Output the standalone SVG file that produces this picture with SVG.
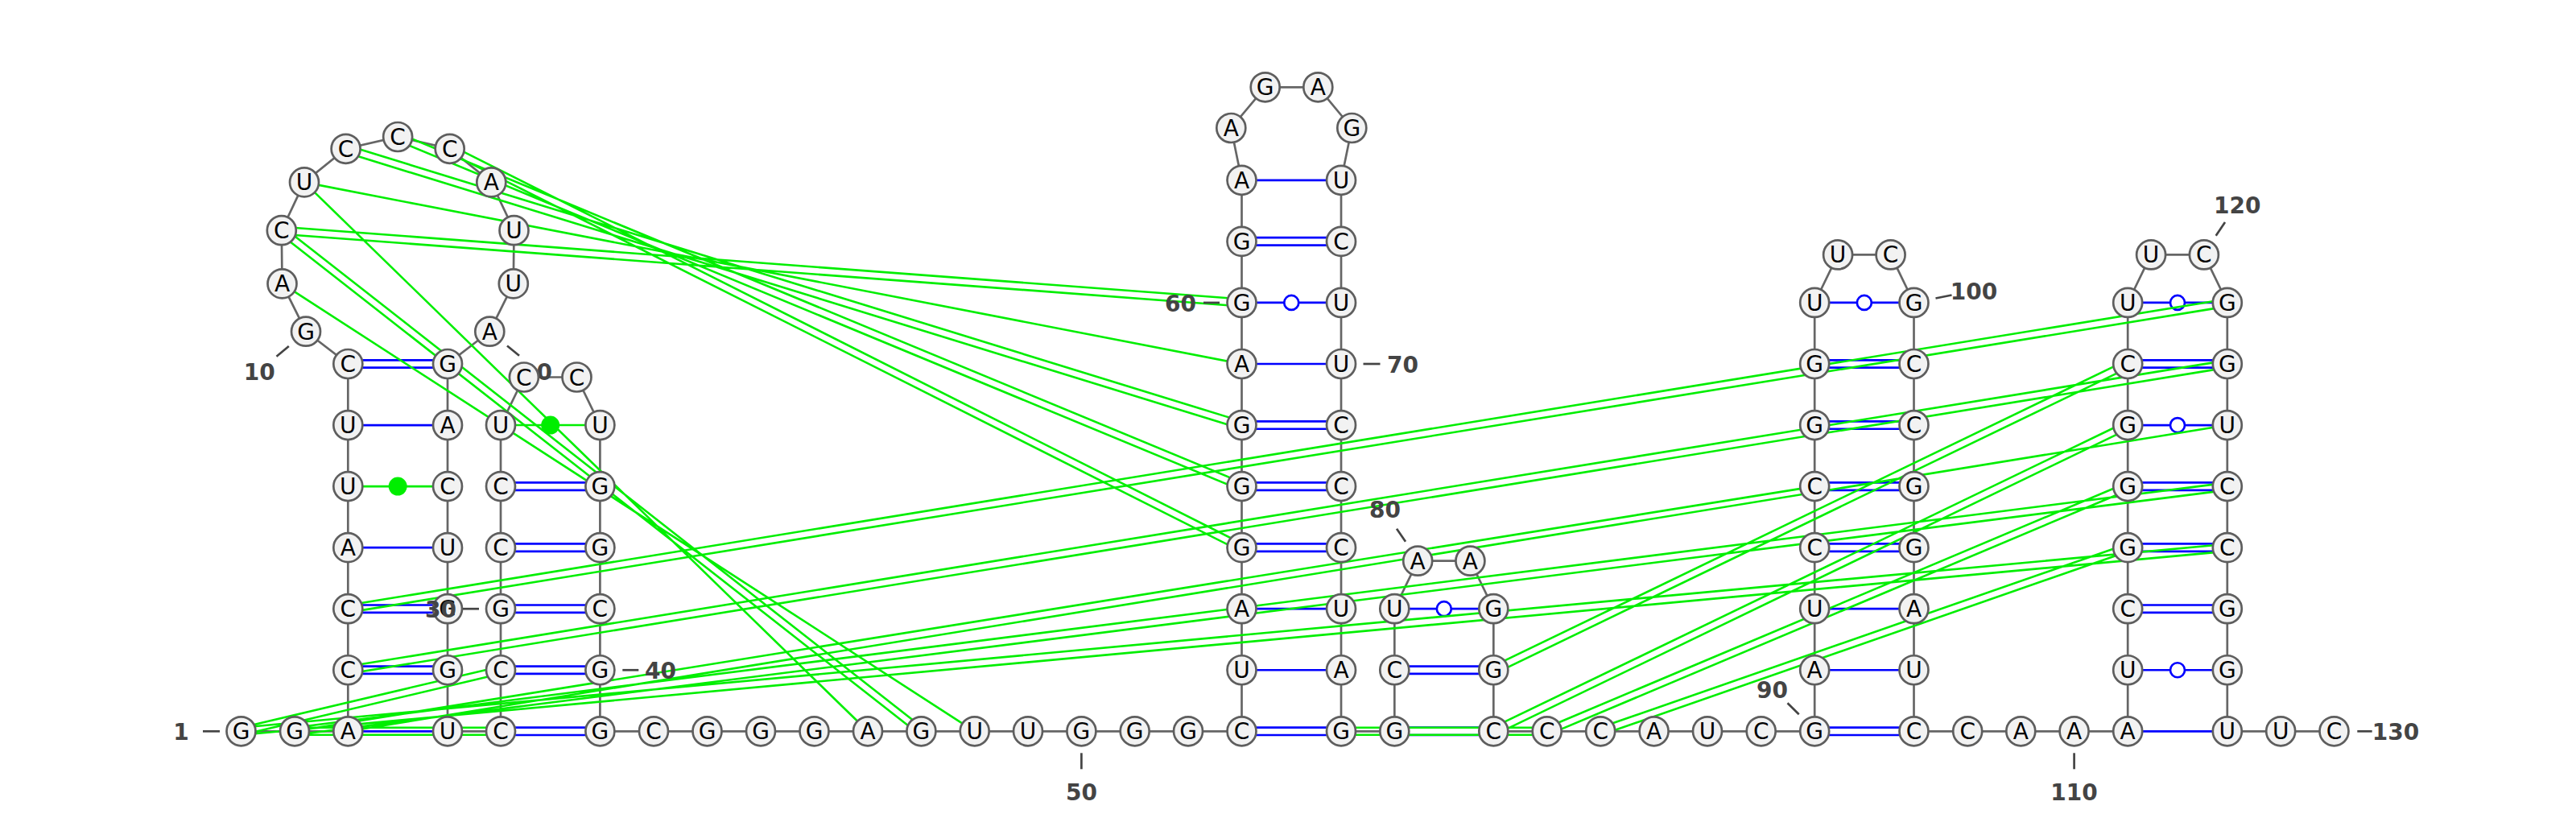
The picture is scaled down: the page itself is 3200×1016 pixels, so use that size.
<svg xmlns="http://www.w3.org/2000/svg" width="3200" height="1016" viewBox="0 0 3200 1016">
<style>
.bb{fill:none;stroke:#666;stroke-width:2.7}
.bp{fill:none;stroke:#0000ff;stroke-width:2.7}
.gu{fill:#fff;stroke:#0000ff;stroke-width:2.7}
.tp{fill:none;stroke:#00ee00;stroke-width:2.6}
.gd{fill:#00ee00;stroke:none}
.nd circle{fill:#f2f2f2;stroke:#5e5e5e;stroke-width:2.7}
.nd text{font-family:'DejaVu Sans',Verdana,sans-serif;font-size:28px;text-anchor:middle;fill:#000}
.nd text.lb{font-size:28px;font-weight:bold;fill:#444}
.tk{stroke:#444;stroke-width:2.7}
</style>
<rect width="3200" height="1016" fill="#fff"/>
<g id="connectors">
<polyline class="bb" points="299.5,908.3 366,908.3 432.3,908.3 432.3,832.25 432.3,756.2 432.3,680.15 432.3,604.1 432.3,528.05 432.3,452 380,411.7 350.5,352.4 349.8,286.2 378,226.4 429.6,184.8 494.15,170 558.7,184.8 610.3,226.4 638.5,286.2 637.8,352.4 608.3,411.7 556,452 556,528.05 556,604.1 556,680.15 556,756.2 556,832.25 556,908.3 622,908.3 622,832.25 622,756.2 622,680.15 622,604.1 622,528.05 650.9,468.5 716.5,468.5 745.4,528.05 745.4,604.1 745.4,680.15 745.4,756.2 745.4,832.25 745.4,908.3 1542.5,908.3 1542.5,223.85 1529.3,159 1571.7,108.3 1637.3,108.3 1679.3,159 1666,223.85 1666,908.3 1732.3,908.3 1732.3,756.2 1761.2,696.7 1826.4,696.7 1855.3,756.2 1855.3,908.3 2254.2,908.3 2254.2,375.95 2283.1,316.45 2348.6,316.45 2377.5,375.95 2377.5,908.3 2643.2,908.3 2643.2,375.95 2672.1,316.45 2737.9,316.45 2766.8,375.95 2766.8,908.3 2899.5,908.3"/>
<path class="bp" d="M432.3,528.05H556M432.3,680.15H556M432.3,908.3H556M1542.5,832.25H1666M1542.5,756.2H1666M1542.5,452H1666M1542.5,223.85H1666M2254.2,832.25H2377.5M2254.2,756.2H2377.5M2643.2,908.3H2766.8"/>
<path class="bp" d="M432.3,447.3H556M432.3,456.7H556M432.3,751.5H556M432.3,760.9H556M432.3,827.55H556M432.3,836.95H556M622,903.6H745.4M622,913H745.4M622,827.55H745.4M622,836.95H745.4M622,751.5H745.4M622,760.9H745.4M622,675.45H745.4M622,684.85H745.4M622,599.4H745.4M622,608.8H745.4M1542.5,903.6H1666M1542.5,913H1666M1542.5,675.45H1666M1542.5,684.85H1666M1542.5,599.4H1666M1542.5,608.8H1666M1542.5,523.35H1666M1542.5,532.75H1666M1542.5,295.2H1666M1542.5,304.6H1666M1732.3,903.6H1855.3M1732.3,913H1855.3M1732.3,827.55H1855.3M1732.3,836.95H1855.3M2254.2,903.6H2377.5M2254.2,913H2377.5M2254.2,675.45H2377.5M2254.2,684.85H2377.5M2254.2,599.4H2377.5M2254.2,608.8H2377.5M2254.2,523.35H2377.5M2254.2,532.75H2377.5M2254.2,447.3H2377.5M2254.2,456.7H2377.5M2643.2,751.5H2766.8M2643.2,760.9H2766.8M2643.2,675.45H2766.8M2643.2,684.85H2766.8M2643.2,599.4H2766.8M2643.2,608.8H2766.8M2643.2,447.3H2766.8M2643.2,456.7H2766.8"/>
<path class="bp" d="M1542.5,375.95H1666M1732.3,756.2H1855.3M2254.2,375.95H2377.5M2643.2,832.25H2766.8M2643.2,528.05H2766.8M2643.2,375.95H2766.8"/>
<circle class="gu" cx="1604.25" cy="375.95" r="9"/>
<circle class="gu" cx="1793.8" cy="756.2" r="9"/>
<circle class="gu" cx="2315.85" cy="375.95" r="9"/>
<circle class="gu" cx="2705" cy="832.25" r="9"/>
<circle class="gu" cx="2705" cy="528.05" r="9"/>
<circle class="gu" cx="2705" cy="375.95" r="9"/>
<path class="tp" d="M432.3,604.1H556M622,528.05H745.4"/>
<circle class="gd" cx="494.15" cy="604.1" r="11.5"/>
<circle class="gd" cx="683.7" cy="528.05" r="11.5"/>
<path class="tp" d="M349.5,290.7L1542.2,380.4M350.1,281.7L1542.8,371.5M378,226.4L1542.5,452M428.3,189.1L1541.2,532.35M430.9,180.5L1543.8,523.75M492.4,174.2L1540.8,608.3M495.9,165.8L1544.2,599.9M556.7,188.8L1540.5,684.2M560.7,180.8L1544.5,676.1M350.5,352.4L1210.7,908.3M347,289.7L1141.6,911.8M352.6,282.7L1147.2,904.8M378,226.4L1078,908.3M299.9,912.8L2767.2,684.6M299.1,903.8L2766.4,675.7M366.6,912.8L2767.4,608.6M365.4,903.8L2766.2,599.6M432.3,908.3L2766.8,528.05M433,836.7L2767.5,456.4M431.6,827.8L2766.1,447.6M433,760.6L2767.5,380.4M431.6,751.8L2766.1,371.5M1857.3,836.3L2645.2,456.1M1853.3,828.2L2641.2,447.9M1857.3,912.4L2645.2,532.1M1853.3,904.2L2641.2,524M1923.4,912.4L2644.9,608.2M1920,904.2L2641.5,600M1989.7,912.6L2644.7,684.4M1986.7,904.1L2641.7,675.9M300.5,912.7L623,836.6M298.5,903.9L621,827.9M366,903.8H622M366,912.8H622M1666,903.8H1921.7M1666,912.8H1921.7M366,908.3L2254.2,604.1"/>
</g>
<g class="nd">
<g id="n1"><circle cx="299.5" cy="908.3" r="18"/><text x="299.5" y="918.3">G</text><text class="lb" x="225" y="919">1</text><line class="tk" x1="252" y1="908.3" x2="273" y2="908.3"/></g>
<g id="n2"><circle cx="366" cy="908.3" r="18"/><text x="366" y="918.3">G</text></g>
<g id="n3"><circle cx="432.3" cy="908.3" r="18"/><text x="432.3" y="918.3">A</text></g>
<g id="n4"><circle cx="432.3" cy="832.25" r="18"/><text x="432.3" y="842.25">C</text></g>
<g id="n5"><circle cx="432.3" cy="756.2" r="18"/><text x="432.3" y="766.2">C</text></g>
<g id="n6"><circle cx="432.3" cy="680.15" r="18"/><text x="432.3" y="690.15">A</text></g>
<g id="n7"><circle cx="432.3" cy="604.1" r="18"/><text x="432.3" y="614.1">U</text></g>
<g id="n8"><circle cx="432.3" cy="528.05" r="18"/><text x="432.3" y="538.05">U</text></g>
<g id="n9"><circle cx="432.3" cy="452" r="18"/><text x="432.3" y="462">C</text></g>
<g id="n10"><circle cx="380" cy="411.7" r="18"/><text x="380" y="421.7">G</text><text class="lb" x="322.3" y="471.5">10</text><line class="tk" x1="343.5" y1="442.7" x2="358.8" y2="430"/></g>
<g id="n11"><circle cx="350.5" cy="352.4" r="18"/><text x="350.5" y="362.4">A</text></g>
<g id="n12"><circle cx="349.8" cy="286.2" r="18"/><text x="349.8" y="296.2">C</text></g>
<g id="n13"><circle cx="378" cy="226.4" r="18"/><text x="378" y="236.4">U</text></g>
<g id="n14"><circle cx="429.6" cy="184.8" r="18"/><text x="429.6" y="194.8">C</text></g>
<g id="n15"><circle cx="494.15" cy="170" r="18"/><text x="494.15" y="180">C</text></g>
<g id="n16"><circle cx="558.7" cy="184.8" r="18"/><text x="558.7" y="194.8">C</text></g>
<g id="n17"><circle cx="610.3" cy="226.4" r="18"/><text x="610.3" y="236.4">A</text></g>
<g id="n18"><circle cx="638.5" cy="286.2" r="18"/><text x="638.5" y="296.2">U</text></g>
<g id="n19"><circle cx="637.8" cy="352.4" r="18"/><text x="637.8" y="362.4">U</text></g>
<g id="n20"><circle cx="608.3" cy="411.7" r="18"/><text x="608.3" y="421.7">A</text><text class="lb" x="666.5" y="471.5">20</text><line class="tk" x1="630" y1="429.5" x2="645" y2="441.8"/></g>
<g id="n21"><circle cx="556" cy="452" r="18"/><text x="556" y="462">G</text></g>
<g id="n22"><circle cx="556" cy="528.05" r="18"/><text x="556" y="538.05">A</text></g>
<g id="n23"><circle cx="556" cy="604.1" r="18"/><text x="556" y="614.1">C</text></g>
<g id="n24"><circle cx="556" cy="680.15" r="18"/><text x="556" y="690.15">U</text></g>
<g id="n25"><circle cx="556" cy="756.2" r="18"/><text x="556" y="766.2">G</text></g>
<g id="n26"><circle cx="556" cy="832.25" r="18"/><text x="556" y="842.25">G</text></g>
<g id="n27"><circle cx="556" cy="908.3" r="18"/><text x="556" y="918.3">U</text></g>
<g id="n28"><circle cx="622" cy="908.3" r="18"/><text x="622" y="918.3">C</text></g>
<g id="n29"><circle cx="622" cy="832.25" r="18"/><text x="622" y="842.25">C</text></g>
<g id="n30"><circle cx="622" cy="756.2" r="18"/><text x="622" y="766.2">G</text><text class="lb" x="547.5" y="767">30</text><line class="tk" x1="575" y1="756.2" x2="595" y2="756.2"/></g>
<g id="n31"><circle cx="622" cy="680.15" r="18"/><text x="622" y="690.15">C</text></g>
<g id="n32"><circle cx="622" cy="604.1" r="18"/><text x="622" y="614.1">C</text></g>
<g id="n33"><circle cx="622" cy="528.05" r="18"/><text x="622" y="538.05">U</text></g>
<g id="n34"><circle cx="650.9" cy="468.5" r="18"/><text x="650.9" y="478.5">C</text></g>
<g id="n35"><circle cx="716.5" cy="468.5" r="18"/><text x="716.5" y="478.5">C</text></g>
<g id="n36"><circle cx="745.4" cy="528.05" r="18"/><text x="745.4" y="538.05">U</text></g>
<g id="n37"><circle cx="745.4" cy="604.1" r="18"/><text x="745.4" y="614.1">G</text></g>
<g id="n38"><circle cx="745.4" cy="680.15" r="18"/><text x="745.4" y="690.15">G</text></g>
<g id="n39"><circle cx="745.4" cy="756.2" r="18"/><text x="745.4" y="766.2">C</text></g>
<g id="n40"><circle cx="745.4" cy="832.25" r="18"/><text x="745.4" y="842.25">G</text><text class="lb" x="820.5" y="843">40</text><line class="tk" x1="773.3" y1="832.25" x2="793.3" y2="832.25"/></g>
<g id="n41"><circle cx="745.4" cy="908.3" r="18"/><text x="745.4" y="918.3">G</text></g>
<g id="n42"><circle cx="812" cy="908.3" r="18"/><text x="812" y="918.3">C</text></g>
<g id="n43"><circle cx="878.5" cy="908.3" r="18"/><text x="878.5" y="918.3">G</text></g>
<g id="n44"><circle cx="945" cy="908.3" r="18"/><text x="945" y="918.3">G</text></g>
<g id="n45"><circle cx="1011.5" cy="908.3" r="18"/><text x="1011.5" y="918.3">G</text></g>
<g id="n46"><circle cx="1078" cy="908.3" r="18"/><text x="1078" y="918.3">A</text></g>
<g id="n47"><circle cx="1144.4" cy="908.3" r="18"/><text x="1144.4" y="918.3">G</text></g>
<g id="n48"><circle cx="1210.7" cy="908.3" r="18"/><text x="1210.7" y="918.3">U</text></g>
<g id="n49"><circle cx="1277" cy="908.3" r="18"/><text x="1277" y="918.3">U</text></g>
<g id="n50"><circle cx="1343.4" cy="908.3" r="18"/><text x="1343.4" y="918.3">G</text><text class="lb" x="1343.4" y="993.6">50</text><line class="tk" x1="1343.4" y1="935.3" x2="1343.4" y2="955.3"/></g>
<g id="n51"><circle cx="1409.7" cy="908.3" r="18"/><text x="1409.7" y="918.3">G</text></g>
<g id="n52"><circle cx="1476" cy="908.3" r="18"/><text x="1476" y="918.3">G</text></g>
<g id="n53"><circle cx="1542.5" cy="908.3" r="18"/><text x="1542.5" y="918.3">C</text></g>
<g id="n54"><circle cx="1542.5" cy="832.25" r="18"/><text x="1542.5" y="842.25">U</text></g>
<g id="n55"><circle cx="1542.5" cy="756.2" r="18"/><text x="1542.5" y="766.2">A</text></g>
<g id="n56"><circle cx="1542.5" cy="680.15" r="18"/><text x="1542.5" y="690.15">G</text></g>
<g id="n57"><circle cx="1542.5" cy="604.1" r="18"/><text x="1542.5" y="614.1">G</text></g>
<g id="n58"><circle cx="1542.5" cy="528.05" r="18"/><text x="1542.5" y="538.05">G</text></g>
<g id="n59"><circle cx="1542.5" cy="452" r="18"/><text x="1542.5" y="462">A</text></g>
<g id="n60"><circle cx="1542.5" cy="375.95" r="18"/><text x="1542.5" y="385.95">G</text><text class="lb" x="1466.5" y="387">60</text><line class="tk" x1="1495" y1="375.95" x2="1515" y2="375.95"/></g>
<g id="n61"><circle cx="1542.5" cy="299.9" r="18"/><text x="1542.5" y="309.9">G</text></g>
<g id="n62"><circle cx="1542.5" cy="223.85" r="18"/><text x="1542.5" y="233.85">A</text></g>
<g id="n63"><circle cx="1529.3" cy="159" r="18"/><text x="1529.3" y="169">A</text></g>
<g id="n64"><circle cx="1571.7" cy="108.3" r="18"/><text x="1571.7" y="118.3">G</text></g>
<g id="n65"><circle cx="1637.3" cy="108.3" r="18"/><text x="1637.3" y="118.3">A</text></g>
<g id="n66"><circle cx="1679.3" cy="159" r="18"/><text x="1679.3" y="169">G</text></g>
<g id="n67"><circle cx="1666" cy="223.85" r="18"/><text x="1666" y="233.85">U</text></g>
<g id="n68"><circle cx="1666" cy="299.9" r="18"/><text x="1666" y="309.9">C</text></g>
<g id="n69"><circle cx="1666" cy="375.95" r="18"/><text x="1666" y="385.95">U</text></g>
<g id="n70"><circle cx="1666" cy="452" r="18"/><text x="1666" y="462">U</text><text class="lb" x="1742.5" y="463">70</text><line class="tk" x1="1693.5" y1="452" x2="1714.5" y2="452"/></g>
<g id="n71"><circle cx="1666" cy="528.05" r="18"/><text x="1666" y="538.05">C</text></g>
<g id="n72"><circle cx="1666" cy="604.1" r="18"/><text x="1666" y="614.1">C</text></g>
<g id="n73"><circle cx="1666" cy="680.15" r="18"/><text x="1666" y="690.15">C</text></g>
<g id="n74"><circle cx="1666" cy="756.2" r="18"/><text x="1666" y="766.2">U</text></g>
<g id="n75"><circle cx="1666" cy="832.25" r="18"/><text x="1666" y="842.25">A</text></g>
<g id="n76"><circle cx="1666" cy="908.3" r="18"/><text x="1666" y="918.3">G</text></g>
<g id="n77"><circle cx="1732.3" cy="908.3" r="18"/><text x="1732.3" y="918.3">G</text></g>
<g id="n78"><circle cx="1732.3" cy="832.25" r="18"/><text x="1732.3" y="842.25">C</text></g>
<g id="n79"><circle cx="1732.3" cy="756.2" r="18"/><text x="1732.3" y="766.2">U</text></g>
<g id="n80"><circle cx="1761.2" cy="696.7" r="18"/><text x="1761.2" y="706.7">A</text><text class="lb" x="1720.5" y="643">80</text><line class="tk" x1="1735" y1="656.7" x2="1746" y2="672.7"/></g>
<g id="n81"><circle cx="1826.4" cy="696.7" r="18"/><text x="1826.4" y="706.7">A</text></g>
<g id="n82"><circle cx="1855.3" cy="756.2" r="18"/><text x="1855.3" y="766.2">G</text></g>
<g id="n83"><circle cx="1855.3" cy="832.25" r="18"/><text x="1855.3" y="842.25">G</text></g>
<g id="n84"><circle cx="1855.3" cy="908.3" r="18"/><text x="1855.3" y="918.3">C</text></g>
<g id="n85"><circle cx="1921.7" cy="908.3" r="18"/><text x="1921.7" y="918.3">C</text></g>
<g id="n86"><circle cx="1988.2" cy="908.3" r="18"/><text x="1988.2" y="918.3">C</text></g>
<g id="n87"><circle cx="2054.6" cy="908.3" r="18"/><text x="2054.6" y="918.3">A</text></g>
<g id="n88"><circle cx="2121" cy="908.3" r="18"/><text x="2121" y="918.3">U</text></g>
<g id="n89"><circle cx="2187.7" cy="908.3" r="18"/><text x="2187.7" y="918.3">C</text></g>
<g id="n90"><circle cx="2254.2" cy="908.3" r="18"/><text x="2254.2" y="918.3">G</text><text class="lb" x="2201.4" y="866.5">90</text><line class="tk" x1="2220.5" y1="873.3" x2="2234.7" y2="887.3"/></g>
<g id="n91"><circle cx="2254.2" cy="832.25" r="18"/><text x="2254.2" y="842.25">A</text></g>
<g id="n92"><circle cx="2254.2" cy="756.2" r="18"/><text x="2254.2" y="766.2">U</text></g>
<g id="n93"><circle cx="2254.2" cy="680.15" r="18"/><text x="2254.2" y="690.15">C</text></g>
<g id="n94"><circle cx="2254.2" cy="604.1" r="18"/><text x="2254.2" y="614.1">C</text></g>
<g id="n95"><circle cx="2254.2" cy="528.05" r="18"/><text x="2254.2" y="538.05">G</text></g>
<g id="n96"><circle cx="2254.2" cy="452" r="18"/><text x="2254.2" y="462">G</text></g>
<g id="n97"><circle cx="2254.2" cy="375.95" r="18"/><text x="2254.2" y="385.95">U</text></g>
<g id="n98"><circle cx="2283.1" cy="316.45" r="18"/><text x="2283.1" y="326.45">U</text></g>
<g id="n99"><circle cx="2348.6" cy="316.45" r="18"/><text x="2348.6" y="326.45">C</text></g>
<g id="n100"><circle cx="2377.5" cy="375.95" r="18"/><text x="2377.5" y="385.95">G</text><text class="lb" x="2452" y="371.5">100</text><line class="tk" x1="2404.5" y1="370.5" x2="2424.5" y2="366.5"/></g>
<g id="n101"><circle cx="2377.5" cy="452" r="18"/><text x="2377.5" y="462">C</text></g>
<g id="n102"><circle cx="2377.5" cy="528.05" r="18"/><text x="2377.5" y="538.05">C</text></g>
<g id="n103"><circle cx="2377.5" cy="604.1" r="18"/><text x="2377.5" y="614.1">G</text></g>
<g id="n104"><circle cx="2377.5" cy="680.15" r="18"/><text x="2377.5" y="690.15">G</text></g>
<g id="n105"><circle cx="2377.5" cy="756.2" r="18"/><text x="2377.5" y="766.2">A</text></g>
<g id="n106"><circle cx="2377.5" cy="832.25" r="18"/><text x="2377.5" y="842.25">U</text></g>
<g id="n107"><circle cx="2377.5" cy="908.3" r="18"/><text x="2377.5" y="918.3">C</text></g>
<g id="n108"><circle cx="2444.2" cy="908.3" r="18"/><text x="2444.2" y="918.3">C</text></g>
<g id="n109"><circle cx="2510.3" cy="908.3" r="18"/><text x="2510.3" y="918.3">A</text></g>
<g id="n110"><circle cx="2576.6" cy="908.3" r="18"/><text x="2576.6" y="918.3">A</text><text class="lb" x="2576.6" y="993.6">110</text><line class="tk" x1="2576.6" y1="935.3" x2="2576.6" y2="955.3"/></g>
<g id="n111"><circle cx="2643.2" cy="908.3" r="18"/><text x="2643.2" y="918.3">A</text></g>
<g id="n112"><circle cx="2643.2" cy="832.25" r="18"/><text x="2643.2" y="842.25">U</text></g>
<g id="n113"><circle cx="2643.2" cy="756.2" r="18"/><text x="2643.2" y="766.2">C</text></g>
<g id="n114"><circle cx="2643.2" cy="680.15" r="18"/><text x="2643.2" y="690.15">G</text></g>
<g id="n115"><circle cx="2643.2" cy="604.1" r="18"/><text x="2643.2" y="614.1">G</text></g>
<g id="n116"><circle cx="2643.2" cy="528.05" r="18"/><text x="2643.2" y="538.05">G</text></g>
<g id="n117"><circle cx="2643.2" cy="452" r="18"/><text x="2643.2" y="462">C</text></g>
<g id="n118"><circle cx="2643.2" cy="375.95" r="18"/><text x="2643.2" y="385.95">U</text></g>
<g id="n119"><circle cx="2672.1" cy="316.45" r="18"/><text x="2672.1" y="326.45">U</text></g>
<g id="n120"><circle cx="2737.9" cy="316.45" r="18"/><text x="2737.9" y="326.45">C</text><text class="lb" x="2779.2" y="264.5">120</text><line class="tk" x1="2752.7" y1="292.7" x2="2764" y2="276"/></g>
<g id="n121"><circle cx="2766.8" cy="375.95" r="18"/><text x="2766.8" y="385.95">G</text></g>
<g id="n122"><circle cx="2766.8" cy="452" r="18"/><text x="2766.8" y="462">G</text></g>
<g id="n123"><circle cx="2766.8" cy="528.05" r="18"/><text x="2766.8" y="538.05">U</text></g>
<g id="n124"><circle cx="2766.8" cy="604.1" r="18"/><text x="2766.8" y="614.1">C</text></g>
<g id="n125"><circle cx="2766.8" cy="680.15" r="18"/><text x="2766.8" y="690.15">C</text></g>
<g id="n126"><circle cx="2766.8" cy="756.2" r="18"/><text x="2766.8" y="766.2">G</text></g>
<g id="n127"><circle cx="2766.8" cy="832.25" r="18"/><text x="2766.8" y="842.25">G</text></g>
<g id="n128"><circle cx="2766.8" cy="908.3" r="18"/><text x="2766.8" y="918.3">U</text></g>
<g id="n129"><circle cx="2833.2" cy="908.3" r="18"/><text x="2833.2" y="918.3">U</text></g>
<g id="n130"><circle cx="2899.5" cy="908.3" r="18"/><text x="2899.5" y="918.3">C</text><text class="lb" x="2976" y="919">130</text><line class="tk" x1="2928.3" y1="908.3" x2="2946.7" y2="908.3"/></g>
</g>
</svg>
